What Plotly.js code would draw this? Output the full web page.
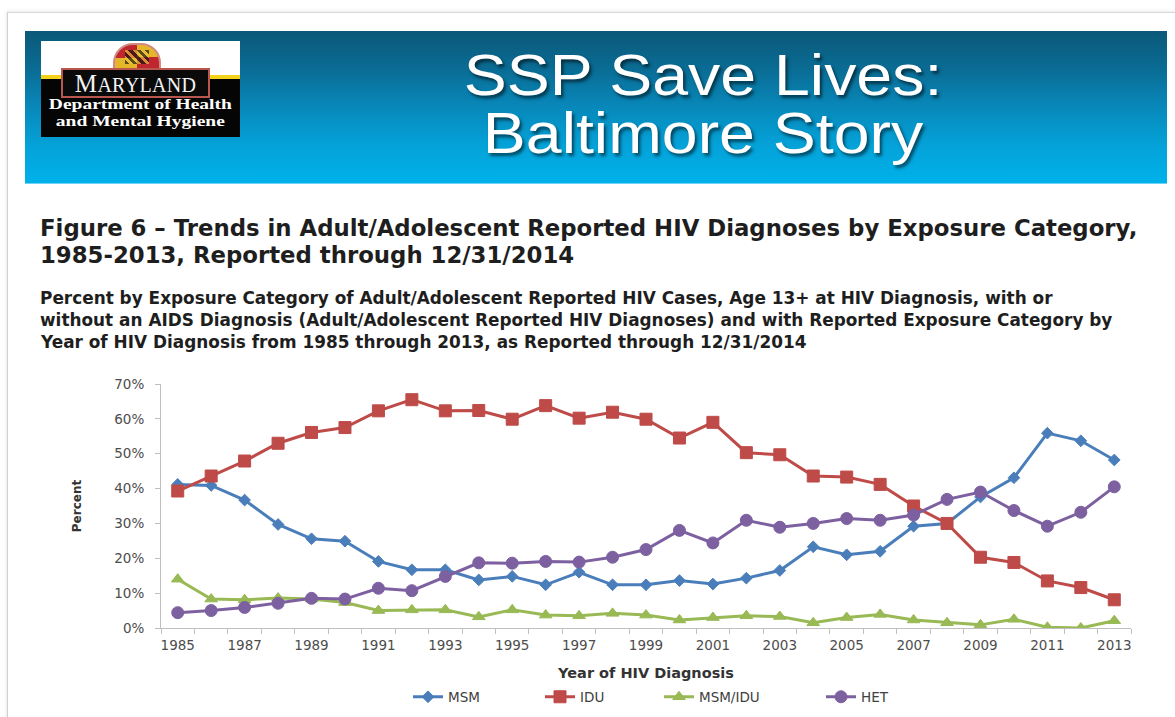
<!DOCTYPE html>
<html>
<head>
<meta charset="utf-8">
<script src="https://cdn.plot.ly/plotly-3.0.1.min.js"></script>
<style>
  html, body { margin:0; padding:0; background:#ffffff; width:1175px; height:717px; overflow:hidden; }
  #frame { position:absolute; left:7px; top:12px; width:1180px; height:720px; border-left:1px solid #cfcfcf; border-top:1px solid #d8d8d8; box-shadow:-1px -1px 3px rgba(0,0,0,0.08); }
  #banner { position:absolute; left:25px; top:31px; width:1142px; height:152px;
    background:linear-gradient(to bottom, #0b5878 0%, #0a6c94 25%, #0888ba 50%, #04a2d8 75%, #00b1ea 100%);
    border-bottom:1px solid #6fd3f5; z-index:2; }
  .htitle { position:absolute; left:0; width:1406px; text-align:center; color:#ffffff; font-family:"Liberation Sans", Arial, sans-serif; font-size:57px; line-height:57px; text-shadow:2px 3px 3px rgba(0,0,0,0.55); z-index:3; transform:scaleX(1.13); transform-origin:703px 0; }
  #logo { position:absolute; left:41px; top:41px; width:199px; height:96px; background:#050505; z-index:3; overflow:hidden; }
  #logoWhite { position:absolute; left:0; top:0; width:199px; height:34px; background:#ffffff; }
  #logoYellow { position:absolute; left:0; top:34px; width:199px; height:4px; background:#f4d21b; }
  #crest { position:absolute; left:72px; top:2px; width:44px; height:25px; border:2px solid #d28a82; border-radius:20px 20px 3px 3px;
    background:conic-gradient(#e4b628 0 25%, #c0262e 0 50%, #e4b628 0 75%, #c0262e 0); }
  #crestInner { position:absolute; left:10px; top:5px; width:24px; height:14px;
    background:repeating-linear-gradient(45deg, #111 0 3px, #e8c23a 3px 6px); opacity:0.65; }
  #mdbox { position:absolute; left:20px; top:27px; width:145px; height:26px; border:2px solid #b9574f; background:#0a0a0a; color:#f2f2f2;
    font-family:"Liberation Serif", "DejaVu Serif", serif; text-align:center; line-height:28px; letter-spacing:0.3px; }
  .dept { position:absolute; left:0; width:199px; text-align:center; color:#ffffff; font-family:"Liberation Serif", "DejaVu Serif", serif; font-weight:bold; font-size:15px; transform:scaleX(1.3); transform-origin:100px 0; }
  #plot { position:absolute; left:0; top:0; width:1175px; height:717px; z-index:1; }
</style>
</head>
<body>
<div id="frame"></div>
<div id="banner"></div>
<div class="htitle" style="top:47px;">SSP Save Lives:</div>
<div class="htitle" style="top:105px;">Baltimore Story</div>
<div id="logo">
  <div id="logoWhite"></div>
  <div id="logoYellow"></div>
  <div id="crest"><div id="crestInner"></div></div>
  <div id="mdbox"><span style="font-size:25px;">M</span><span style="font-size:20px;">ARYLAND</span></div>
  <div class="dept" style="top:55px;">Department of Health</div>
  <div class="dept" style="top:72px;">and Mental Hygiene</div>
</div>
<div id="plot"></div>
<script>
// ---- data ----
const years = [1985,1986,1987,1988,1989,1990,1991,1992,1993,1994,1995,1996,1997,1998,1999,2000,2001,2002,2003,2004,2005,2006,2007,2008,2009,2010,2011,2012,2013];
const msm = [41.2,40.9,36.7,29.7,25.6,24.9,19.1,16.7,16.7,13.8,14.8,12.4,16.0,12.4,12.4,13.6,12.6,14.3,16.5,23.3,21.0,22.0,29.2,30.0,37.6,43.1,55.9,53.7,48.2];
const idu = [39.3,43.6,47.9,53.0,56.1,57.5,62.3,65.5,62.3,62.4,59.9,63.8,60.2,61.9,59.9,54.5,59.0,50.3,49.7,43.6,43.3,41.2,35.0,30.0,20.3,18.8,13.5,11.6,8.1];
const msmIdu = [14.0,8.3,8.1,8.6,8.3,7.3,5.0,5.2,5.2,3.2,5.2,3.7,3.5,4.2,3.7,2.3,3.0,3.5,3.3,1.5,3.0,3.9,2.3,1.5,0.9,2.5,0.2,0.0,2.1];
const het = [4.4,5.0,5.9,7.1,8.5,8.3,11.4,10.7,14.8,18.7,18.6,19.1,18.9,20.3,22.5,28.0,24.4,30.9,28.9,30.0,31.4,30.9,32.4,36.9,39.0,33.7,29.2,33.2,40.5];
const seriesNames = ["MSM","IDU","MSM/IDU","HET"];
const xTickLabels = [1985,1987,1989,1991,1993,1995,1997,1999,2001,2003,2005,2007,2009,2011,2013];
const yTickValues = [0,10,20,30,40,50,60,70];

const figTitle1 = "Figure 6 \u2013 Trends in Adult/Adolescent Reported HIV Diagnoses by Exposure Category,";
const figTitle2 = "1985-2013, Reported through 12/31/2014";
const sub1 = "Percent by Exposure Category of Adult/Adolescent Reported HIV Cases, Age 13+ at HIV Diagnosis, with or";
const sub2 = "without an AIDS Diagnosis (Adult/Adolescent Reported HIV Diagnoses) and with Reported Exposure Category by";
const sub3 = "Year of HIV Diagnosis from 1985 through 2013, as Reported through 12/31/2014";

// ---- layout geometry ----
const FW = 1175, FH = 717;
const L = 161, R = 44, T = 384, B = 89;
const W = FW - L - R, H = FH - T - B;
const fx = px => (px - L) / W;
const fy = py => (T + H - py) / H;
const cx = px => px / FW;
const cy = py => 1 - py / FH;

const colors = ["#4a7ebb", "#be4b48", "#98b954", "#7d60a0"];
const symbols = ["diamond", "square", "triangle-up", "circle"];
const sizes = [9, 12, 11, 12];
const vals = [msm, idu, msmIdu, het];
const legendIds = ["legend", "legend2", "legend3", "legend4"];
const legendTextX = [448, 580, 699, 861];

const traces = vals.map((v, i) => ({
  type: "scatter", mode: "lines+markers", x: years, y: v, name: seriesNames[i],
  line: {color: colors[i], width: 3},
  marker: {color: colors[i], symbol: symbols[i], size: sizes[i], line: {color: colors[i], width: 1}},
  legend: legendIds[i], hoverinfo: "x+y+name"
}));

const SANS = "DejaVu Sans, Verdana, sans-serif";
const legendFont = {family: SANS, size: 13.5, color: "#404040"};
const layout = {
  width: FW, height: FH,
  margin: {l: L, r: R, t: T, b: B, pad: 0},
  paper_bgcolor: "rgba(0,0,0,0)", plot_bgcolor: "rgba(0,0,0,0)",
  showlegend: true,
  xaxis: {
    type: "linear", range: [1984.5, 2013.5], tickmode: "array", tickvals: xTickLabels, ticktext: xTickLabels.map(String),
    ticks: "", showline: true, linecolor: "#bfbfbf", linewidth: 1, showgrid: false, zeroline: false,
    ticklabelstandoff: 5,
    minor: {tickmode: "linear", tick0: 1984.5, dtick: 1, ticks: "outside", ticklen: 5, tickcolor: "#bfbfbf", tickwidth: 1, showgrid: false},
    tickfont: {family: SANS, size: 13.5, color: "#4d4d4d"},
    title: {text: "<b>Year of HIV Diagnosis</b>", font: {family: SANS, size: 14.5, color: "#333333"}, standoff: 15}
  },
  yaxis: {
    range: [0, 70], tickmode: "array", tickvals: yTickValues, ticktext: yTickValues.map(v => v + "%"),
    ticks: "outside", ticklen: 5, tickcolor: "#bfbfbf", showline: true, linecolor: "#bfbfbf", linewidth: 1,
    showgrid: false, zeroline: false, ticklabelstandoff: 8,
    tickfont: {family: SANS, size: 13.5, color: "#4d4d4d"},
    title: {text: "<b>Percent</b>", font: {family: SANS, size: 12, color: "#333333"}, standoff: 30}
  },
  annotations: [
    {text: "<b>" + figTitle1 + "</b>", x: fx(38), y: fy(228), size: 22.8},
    {text: "<b>" + figTitle2 + "</b>", x: fx(38), y: fy(255), size: 22.8},
    {text: "<b>" + sub1 + "</b>", x: fx(38), y: fy(298), size: 16.9},
    {text: "<b>" + sub2 + "</b>", x: fx(38), y: fy(320), size: 16.9},
    {text: "<b>" + sub3 + "</b>", x: fx(38), y: fy(342), size: 16.9}
  ].map(a => ({
    text: a.text, xref: "paper", yref: "paper", x: a.x, y: a.y, xanchor: "left", yanchor: "middle",
    showarrow: false, align: "left",
    font: {family: SANS, size: a.size, color: "#1e1e1e"}
  }))
};
legendIds.forEach((id, i) => {
  layout[id] = {orientation: "h", xref: "container", yref: "container", x: cx(legendTextX[i] - 40), y: cy(697),
    xanchor: "left", yanchor: "middle",
    font: legendFont, bgcolor: "rgba(0,0,0,0)", borderwidth: 0, tracegroupgap: 0};
});

Plotly.newPlot("plot", traces, layout, {displayModeBar: false, staticPlot: true});
</script>
</body>
</html>
